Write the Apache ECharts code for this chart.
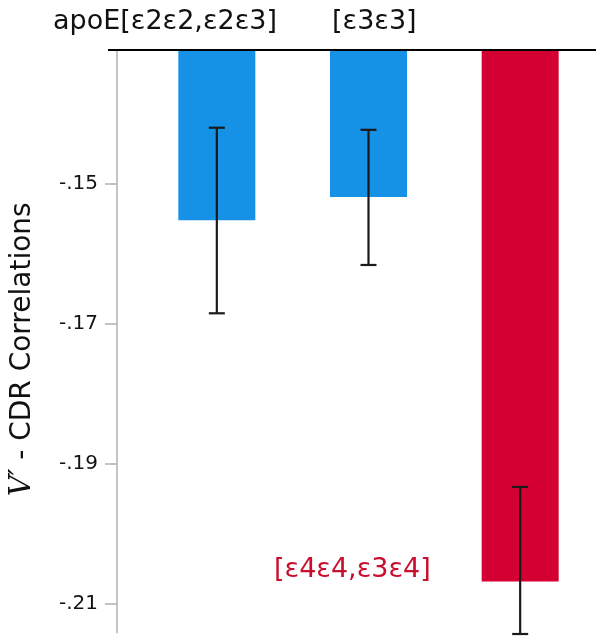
<!DOCTYPE html>
<html>
<head>
<meta charset="utf-8">
<script src="https://cdn.jsdelivr.net/npm/echarts@6/dist/echarts.min.js"></script>
<style>html,body{margin:0;padding:0;background:#fff;}#c{width:596px;height:641px;}</style>
</head>
<body>
<div id="c"></div>
<script>
const categories = ['apoE[ε2ε2,ε2ε3]', '[ε3ε3]', '[ε4ε4,ε3ε4]'];
const means = [-0.1552, -0.1519, -0.2068];
const errLow = [-0.1685, -0.1616, -0.2143];
const errHigh = [-0.1420, -0.1423, -0.1933];
const barColors = ['#1591E6', '#1591E6', '#D50032'];
const tickValues = [-0.21, -0.19, -0.17, -0.15];

const FONT = '"DejaVu Sans", sans-serif';
const chart = echarts.init(document.getElementById('c'));
const errData = categories.map((c, i) => [i, errLow[i], errHigh[i]]);

chart.setOption({
  animation: false,
  grid: { left: 136, right: 0, top: 50, bottom: 641 - 632.6 },
  xAxis: {
    type: 'category', data: categories, position: 'top',
    axisLine: { show: false }, axisTick: { show: false }, axisLabel: { show: false }
  },
  yAxis: {
    type: 'value', min: -0.2141, max: -0.1309, offset: 24,
    splitLine: { show: false },
    axisLine: { show: true, lineStyle: { color: '#c4c4c4', width: 2 } },
    axisTick: { show: true, length: 12, customValues: tickValues, lineStyle: { color: '#b0b0b0', width: 1.5 } },
    axisLabel: {
      customValues: tickValues, margin: 19, color: '#111', fontFamily: FONT, fontSize: 20,
      formatter: v => v.toFixed(2).replace('0.', '.')
    },
    name: '{v|V′} - CDR Correlations', nameLocation: 'middle', nameRotate: 90, nameGap: 80,
    nameTextStyle: {
      color: '#111', fontFamily: FONT, fontSize: 28, padding: [0, 16, 0, 0],
      rich: { v: { fontFamily: '"DejaVu Serif", "Liberation Serif", serif', fontStyle: 'italic', fontSize: 29, color: '#111' } }
    }
  },
  series: [
    {
      type: 'bar', barWidth: 77, clip: true,
      data: means.map((v, i) => ({ value: v, itemStyle: { color: barColors[i] } }))
    },
    {
      type: 'custom', clip: false, z: 5,
      data: errData,
      renderItem: function (params, api) {
        const x = api.value(0);
        const lo = api.coord([x, api.value(1)]);
        const hi = api.coord([x, api.value(2)]);
        const w = 8;
        const style = { stroke: '#1a1a1a', lineWidth: 2.2 };
        return {
          type: 'group',
          children: [
            { type: 'line', shape: { x1: lo[0], y1: lo[1], x2: hi[0], y2: hi[1] }, style },
            { type: 'line', shape: { x1: lo[0] - w, y1: lo[1], x2: lo[0] + w, y2: lo[1] }, style },
            { type: 'line', shape: { x1: hi[0] - w, y1: hi[1], x2: hi[0] + w, y2: hi[1] }, style }
          ]
        };
      }
    }
  ],
  graphic: [
    { type: 'line', shape: { x1: 108, y1: 50, x2: 596, y2: 50 }, style: { stroke: '#000', lineWidth: 2 }, z: 10 },
    { type: 'text', x: 53, y: 22, style: { text: categories[0], font: '27px ' + FONT, fill: '#111', verticalAlign: 'middle' } },
    { type: 'text', x: 332, y: 22, style: { text: categories[1], font: '27px ' + FONT, fill: '#111', verticalAlign: 'middle' } },
    { type: 'text', x: 274, y: 570, style: { text: categories[2], font: '27px ' + FONT, fill: '#C8102E', verticalAlign: 'middle' } }
  ]
});
</script>
</body>
</html>
